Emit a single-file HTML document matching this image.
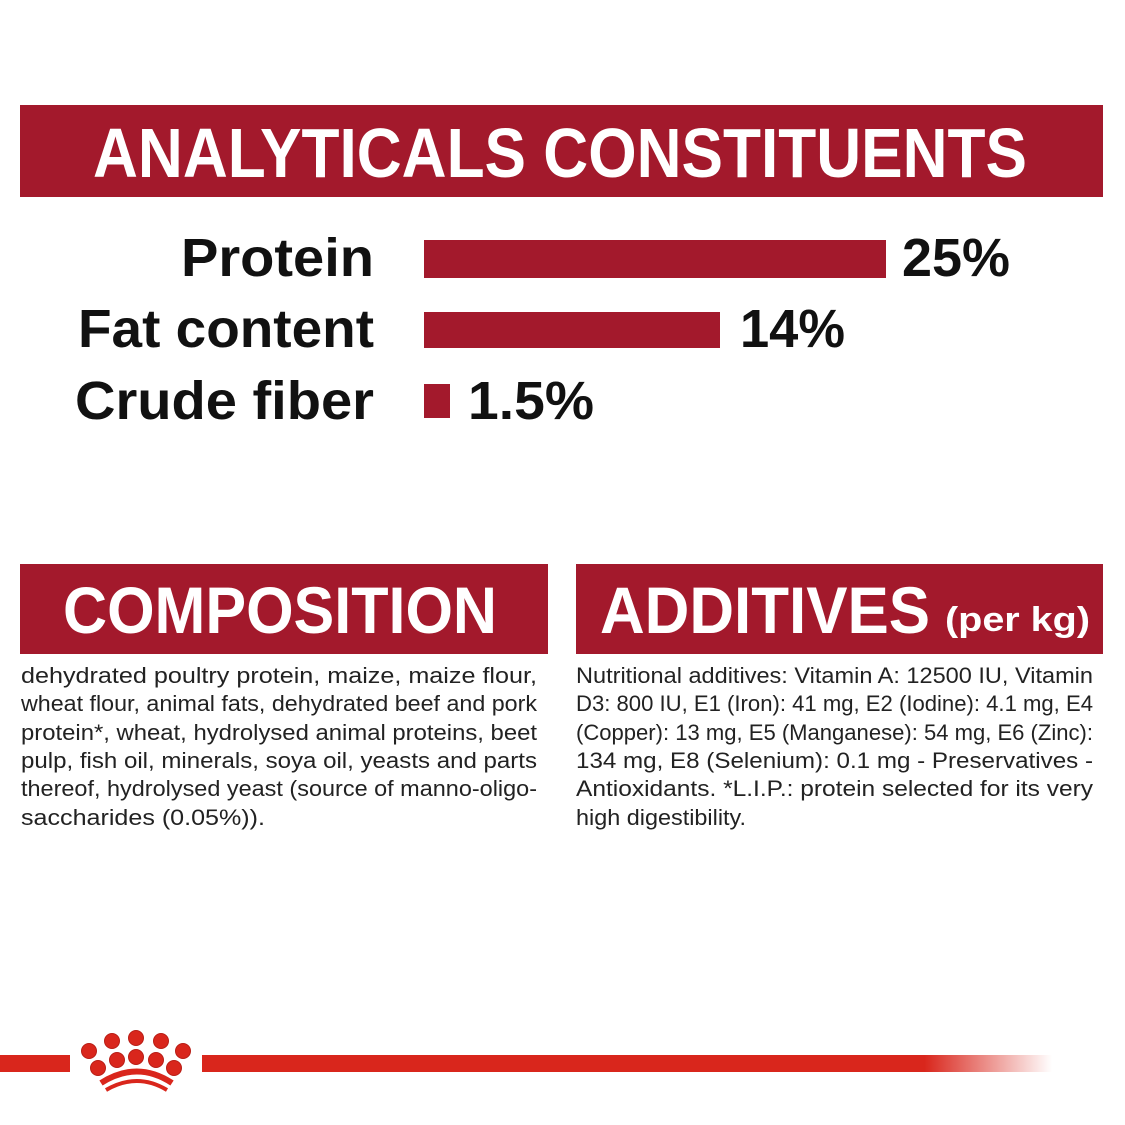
<!DOCTYPE html>
<html><head><meta charset="utf-8"><style>
html,body{margin:0;padding:0;background:#fff;}
svg{display:block}
</style></head><body>
<svg width="1125" height="1125" viewBox="0 0 1125 1125" xmlns="http://www.w3.org/2000/svg">
<defs>
<linearGradient id="fade" x1="0" x2="1" y1="0" y2="0">
<stop offset="0" stop-color="#d9261c"/><stop offset="0.85" stop-color="#d9261c"/><stop offset="1" stop-color="#d9261c" stop-opacity="0"/>
</linearGradient>
</defs>
<rect x="0" y="0" width="1125" height="1125" fill="#fff"/>
<rect x="20" y="105" width="1083" height="92" fill="#a3192c"/>
<text x="93" y="177" font-family="Liberation Sans, sans-serif" font-weight="bold" font-size="70" fill="#fff" textLength="934" lengthAdjust="spacingAndGlyphs">ANALYTICALS CONSTITUENTS</text>

<g font-family="Liberation Sans, sans-serif" font-weight="bold" font-size="54" fill="#111">
<text x="181" y="276" textLength="193" lengthAdjust="spacingAndGlyphs">Protein</text>
<text x="78" y="347" textLength="296" lengthAdjust="spacingAndGlyphs">Fat content</text>
<text x="75" y="419" textLength="299" lengthAdjust="spacingAndGlyphs">Crude fiber</text>
<text x="902" y="276" textLength="108" lengthAdjust="spacingAndGlyphs">25%</text>
<text x="740" y="347" textLength="105" lengthAdjust="spacingAndGlyphs">14%</text>
<text x="468" y="419" textLength="126" lengthAdjust="spacingAndGlyphs">1.5%</text>
</g>
<rect x="424" y="240" width="462" height="38" fill="#a3192c"/>
<rect x="424" y="312" width="296" height="36" fill="#a3192c"/>
<rect x="424" y="384" width="26" height="34" fill="#a3192c"/>

<rect x="20" y="564" width="528" height="90" fill="#a3192c"/>
<text x="63" y="633" font-family="Liberation Sans, sans-serif" font-weight="bold" font-size="66" fill="#fff" textLength="434" lengthAdjust="spacingAndGlyphs">COMPOSITION</text>
<rect x="576" y="564" width="527" height="90" fill="#a3192c"/>
<text x="600" y="633" font-family="Liberation Sans, sans-serif" font-weight="bold" font-size="66" fill="#fff" textLength="330" lengthAdjust="spacingAndGlyphs">ADDITIVES</text>
<text x="945" y="631" font-family="Liberation Sans, sans-serif" font-weight="bold" font-size="34" fill="#fff" textLength="145" lengthAdjust="spacingAndGlyphs">(per kg)</text>

<g font-family="Liberation Sans, sans-serif" font-size="22" fill="#222">
<text x="21" y="683" textLength="516" lengthAdjust="spacingAndGlyphs">dehydrated poultry protein, maize, maize flour,</text>
<text x="21" y="711" textLength="516" lengthAdjust="spacingAndGlyphs">wheat flour, animal fats, dehydrated beef and pork</text>
<text x="21" y="740" textLength="516" lengthAdjust="spacingAndGlyphs">protein*, wheat, hydrolysed animal proteins, beet</text>
<text x="21" y="768" textLength="516" lengthAdjust="spacingAndGlyphs">pulp, fish oil, minerals, soya oil, yeasts and parts</text>
<text x="21" y="796" textLength="516" lengthAdjust="spacingAndGlyphs">thereof, hydrolysed yeast (source of manno-oligo-</text>
<text x="21" y="825" textLength="244" lengthAdjust="spacingAndGlyphs">saccharides (0.05%)).</text>

<text x="576" y="683" textLength="517" lengthAdjust="spacingAndGlyphs">Nutritional additives: Vitamin A: 12500 IU, Vitamin</text>
<text x="576" y="711" textLength="517" lengthAdjust="spacingAndGlyphs">D3: 800 IU, E1 (Iron): 41 mg, E2 (Iodine): 4.1 mg, E4</text>
<text x="576" y="740" textLength="517" lengthAdjust="spacingAndGlyphs">(Copper): 13 mg, E5 (Manganese): 54 mg, E6 (Zinc):</text>
<text x="576" y="768" textLength="517" lengthAdjust="spacingAndGlyphs">134 mg, E8 (Selenium): 0.1 mg - Preservatives -</text>
<text x="576" y="796" textLength="517" lengthAdjust="spacingAndGlyphs">Antioxidants. *L.I.P.: protein selected for its very</text>
<text x="576" y="825" textLength="170" lengthAdjust="spacingAndGlyphs">high digestibility.</text>
</g>

<rect x="0" y="1055" width="70" height="17" fill="#d9261c"/>
<rect x="202" y="1055" width="850" height="17" fill="url(#fade)"/>
<g fill="#d9261c" stroke="#b81e16" stroke-width="1">
<circle cx="89" cy="1051" r="7.5"/>
<circle cx="112" cy="1041" r="7.5"/>
<circle cx="136" cy="1038" r="7.5"/>
<circle cx="161" cy="1041" r="7.5"/>
<circle cx="183" cy="1051" r="7.5"/>
<circle cx="98" cy="1068" r="7.5"/>
<circle cx="117" cy="1060" r="7.5"/>
<circle cx="136" cy="1057" r="7.5"/>
<circle cx="156" cy="1060" r="7.5"/>
<circle cx="174" cy="1068" r="7.5"/>
</g>
<path d="M101 1083 Q137 1060 172 1083" stroke="#d9261c" stroke-width="6" fill="none"/>
<path d="M106 1090 Q137 1072 167 1090" stroke="#d9261c" stroke-width="4" fill="none"/>
</svg>
</body></html>
